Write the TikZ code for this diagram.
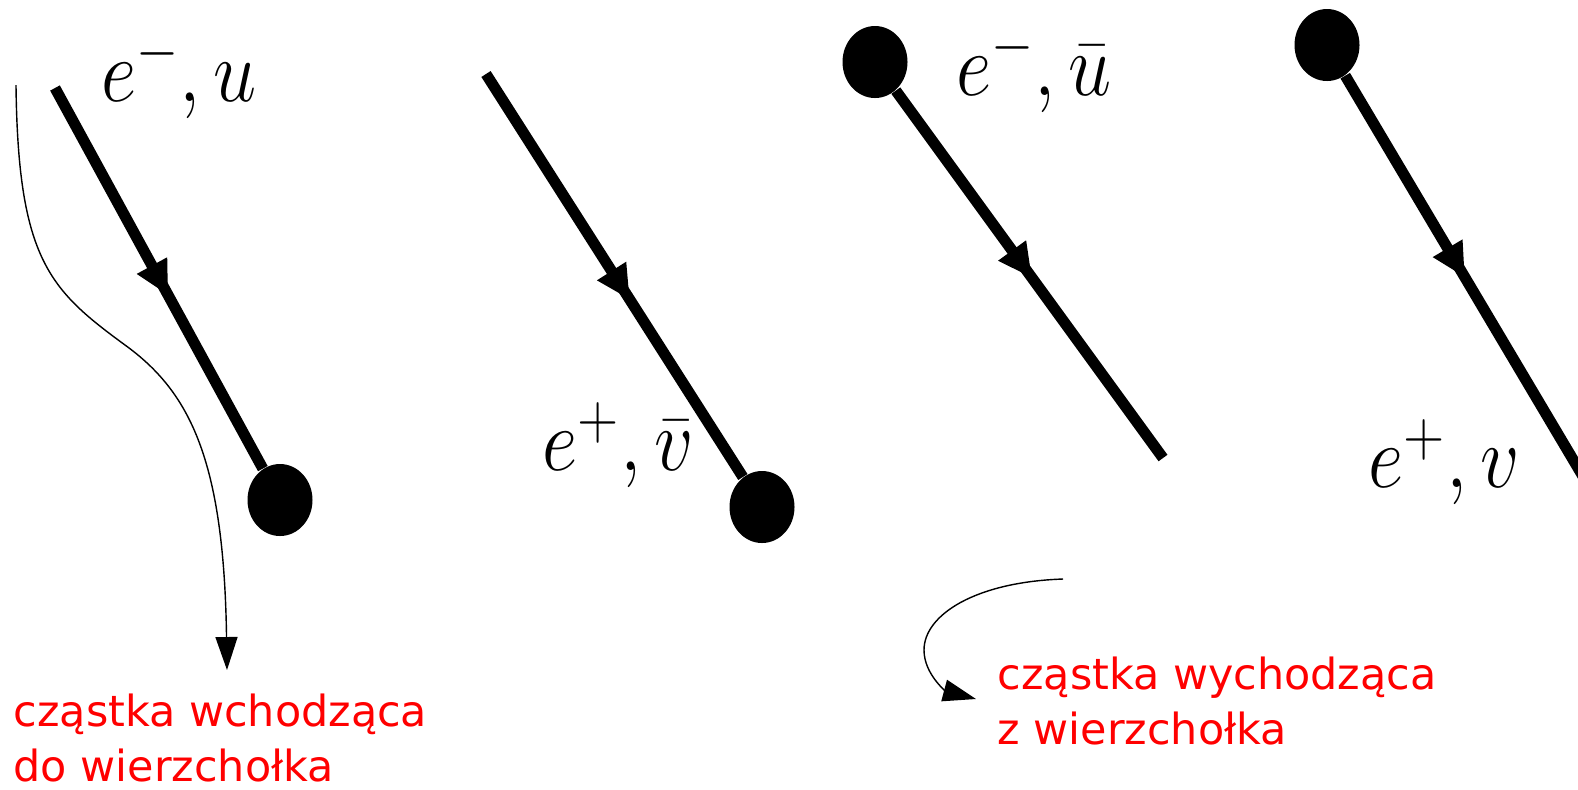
\RequirePackage{fix-cm}
\documentclass[tikz,border=0pt]{standalone}
\usepackage{fontspec}
\usepackage{graphicx}
\usetikzlibrary{arrows.meta,decorations.markings,shapes.geometric}
\newfontfamily\plsans{DejaVu Sans}
\definecolor{plred}{RGB}{255,0,0}
\newcommand{\lbl}[1]{\scalebox{1}[1.15]{\fontsize{22}{26}\selectfont$#1$}}

\begin{document}
\begin{tikzpicture}[x=0.1mm,y=-0.1mm,
 ln/.style={line width=1.1mm,postaction={decorate},
   decoration={markings,mark=at position #1 with {\arrow{Triangle[length=3.4mm,width=3.2mm]}}}},
 ln/.default=0.5,
 v/.style={ellipse,fill=black,inner sep=0pt,minimum width=6.5mm,minimum height=7.2mm},
 fl/.style={line width=0.4pt,-{Triangle[length=3.3mm,width=2.2mm]}},
 t/.style={text=plred,font=\plsans\fontsize{12.2}{15.8}\selectfont,align=left,anchor=north west,inner sep=0pt}]
 \useasboundingbox (0,0) rectangle (1578,789);
 % wchodzace
 \node[v](d1) at (280,500){};
 \coordinate (s1) at (55,88);
 \draw[ln=0.545](s1)--(d1);
 \node(l1) at (179,76){\lbl{e^-,u}};
 \node[v](d2) at (762,507){};
 \coordinate (s2) at (486,74);
 \draw[ln=0.56](s2)--(d2);
 \node(l2) at (618,445){\lbl{e^+,\bar{v}}};
 % wychodzace
 \node[v](d3) at (875,62){};
 \coordinate (e3) at (1163,458);
 \draw[ln=0.51](d3)--(e3);
 \node(l3) at (1034,70){\lbl{e^-,\bar{u}}};
 \node[v](d4) at (1327,45){};
 \coordinate (e4) at (1600,505);
 \draw[ln=0.47](d4)--(e4);
 \node(l4) at (1444,462){\lbl{e^+,v}};
 % opisy
 \coordinate (c1) at (16,85);
 \node[t](in) at (13,693){cząstka wchodząca\\do wierzchołka};
 \draw[fl](c1) .. controls (18,260) and (50,290) .. (125,345)
   .. controls (190,392) and (224,460) .. (227,670);
 \coordinate (c2) at (1063,579);
 \node[t](out) at (997,656){cząstka wychodząca\\z wierzchołka};
 \draw[fl](c2) .. controls (975,582) and (924,615) .. (924,650)
   .. controls (924,674) and (946,691) .. (976,699);
\end{tikzpicture}
\end{document}
